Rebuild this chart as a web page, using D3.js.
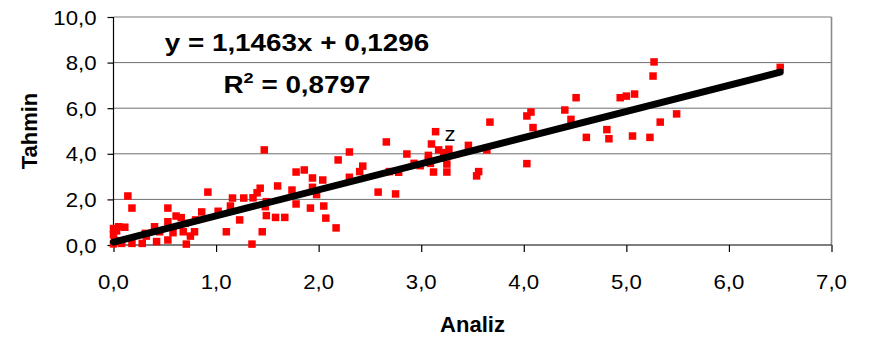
<!DOCTYPE html>
<html>
<head>
<meta charset="utf-8">
<script src="https://cdn.jsdelivr.net/npm/d3@7"></script>
<style>
  html, body { margin: 0; padding: 0; background: #fff; }
  svg { display: block; }
  text { font-family: "Liberation Sans", Arial, sans-serif; fill: #000; }
</style>
</head>
<body>
<svg id="chart" width="874" height="339"></svg>
<script>
// ---- Data ----
const analiz = [0.00,0.00,0.01,0.00,0.03,0.05,0.08,0.11,0.14,0.18,0.18,0.28,0.31,0.32,0.40,0.42,0.45,0.53,0.53,0.53,
  0.58,0.61,0.66,0.68,0.70,0.71,0.75,0.79,0.80,0.86,0.92,1.02,1.10,1.14,1.16,1.23,1.27,1.35,1.36,1.40,
  1.43,1.45,1.47,1.48,1.49,1.49,1.58,1.60,1.67,1.74,1.78,1.78,1.86,1.92,1.94,1.94,1.98,2.04,2.05,2.07,
  2.17,2.19,2.30,2.30,2.40,2.43,2.58,2.66,2.69,2.75,2.78,2.86,2.93,2.99,3.07,3.07,3.09,3.10,3.12,3.14,
  3.17,3.22,3.25,3.25,3.27,3.46,3.54,3.56,3.64,3.67,4.03,4.03,4.07,4.09,4.40,4.46,4.51,4.61,4.81,4.83,
  4.94,5.00,5.06,5.08,5.23,5.26,5.27,5.33,5.49,6.50];
const tahmin = [0.72,0.45,0.20,0.05,0.62,0.80,0.07,0.78,2.15,1.62,0.07,0.07,0.51,0.39,0.80,0.15,0.58,1.62,1.02,0.22,
  0.54,1.27,1.20,0.58,0.95,0.04,0.39,0.58,1.10,1.45,2.32,1.48,0.58,1.71,2.06,1.10,2.06,0.04,2.07,2.29,
  2.49,0.58,4.17,1.68,1.90,1.29,1.21,2.59,1.21,2.41,3.20,1.80,3.29,1.62,2.94,2.53,2.21,2.85,1.71,1.18,
  0.75,3.73,4.08,2.97,3.22,3.46,2.32,4.52,3.22,2.24,3.19,3.99,3.58,3.48,3.93,3.76,3.58,4.43,3.20,4.97,
  4.17,4.05,3.55,3.20,4.20,4.37,3.03,3.22,4.17,5.39,5.66,3.57,5.83,5.15,5.92,5.51,6.46,4.72,5.06,4.66,
  6.46,6.53,4.78,6.62,4.72,7.41,8.03,5.39,5.75,7.79];

const slope = 1.1463;
const intercept = 0.1296;
const rSquaredText = "0,8797";
const equationText = "y = 1,1463x + 0,1296";

const xTicks = [0, 1, 2, 3, 4, 5, 6, 7];
const yTicks = [0, 2, 4, 6, 8, 10];
const xDomain = [0, 7];
const yDomain = [0, 10];
const xTitle = "Analiz";
const yTitle = "Tahmin";
const annotation = { label: "z", x: 3.28, y: 4.57 };

// ---- Layout ----
const svg = d3.select("#chart");
const plot = { left: 113.5, right: 831.5, top: 17, bottom: 245 };

const x = d3.scaleLinear().domain(xDomain).range([plot.left, plot.right]);
const y = d3.scaleLinear().domain(yDomain).range([plot.bottom, plot.top]);

const loc = d3.formatLocale({ decimal: ",", thousands: ".", grouping: [3], currency: ["", ""] });
const fmt = loc.format(".1f");

const labelStretch = 1.11;

// gridlines
svg.append("g")
  .selectAll("line")
  .data(yTicks.filter(t => t > 0 && t < 10))
  .join("line")
  .attr("x1", plot.left).attr("x2", plot.right)
  .attr("y1", d => y(d)).attr("y2", d => y(d))
  .attr("stroke", "#6e6e6e").attr("stroke-width", 1);

// top & right border (gray)
svg.append("line")
  .attr("x1", plot.left).attr("x2", plot.right)
  .attr("y1", y(10)).attr("y2", y(10))
  .attr("stroke", "#7a7a7a").attr("stroke-width", 1.2);
svg.append("line")
  .attr("x1", plot.right).attr("x2", plot.right)
  .attr("y1", plot.top).attr("y2", plot.bottom)
  .attr("stroke", "#8a8a8a").attr("stroke-width", 1.6);

// axes
const xAxis = d3.axisBottom(x).tickValues(xTicks).tickSize(7).tickFormat("");
const yAxis = d3.axisLeft(y).tickValues(yTicks).tickSize(6).tickFormat("");

const gx = svg.append("g").attr("transform", `translate(0,${plot.bottom})`).call(xAxis);
const gy = svg.append("g").attr("transform", `translate(${plot.left},0)`).call(yAxis);
[gx, gy].forEach(g => {
  g.select(".domain").attr("stroke", "#000").attr("stroke-width", 1.2);
  g.selectAll(".tick line").attr("stroke", "#000").attr("stroke-width", 1.2);
});
gx.select(".domain").attr("d", `M${plot.left},0H${plot.right}`);
gy.select(".domain").attr("d", `M0,${plot.top}V${plot.bottom}`);

// tick labels (stretched horizontally like the original)
svg.append("g").selectAll("text")
  .data(xTicks).join("text")
  .attr("transform", d => `translate(${x(d)},${plot.bottom + 43.5}) scale(${labelStretch},1)`)
  .attr("text-anchor", "middle")
  .attr("font-size", 20)
  .text(d => fmt(d));

svg.append("g").selectAll("text")
  .data(yTicks).join("text")
  .attr("transform", d => `translate(${plot.left - 17},${y(d) + 7.5}) scale(${labelStretch},1)`)
  .attr("text-anchor", "end")
  .attr("font-size", 20)
  .text(d => fmt(d));

// axis titles
svg.append("text")
  .attr("x", (plot.left + plot.right) / 2)
  .attr("y", 331.5)
  .attr("text-anchor", "middle")
  .attr("font-size", 22).attr("font-weight", "bold")
  .text(xTitle);

svg.append("text")
  .attr("transform", `translate(36.5,${(plot.top + plot.bottom) / 2}) rotate(-90)`)
  .attr("text-anchor", "middle")
  .attr("font-size", 22).attr("font-weight", "bold")
  .text(yTitle);

// points
const pts = analiz.map((a, i) => ({ a, t: tahmin[i] }));
const sq = 7.5;
svg.append("g").selectAll("rect")
  .data(pts).join("rect")
  .attr("x", d => x(d.a) - sq / 2)
  .attr("y", d => y(d.t) - sq / 2)
  .attr("width", sq).attr("height", sq)
  .attr("fill", "#ff0000");

// annotation
svg.append("text")
  .attr("transform", `translate(${x(annotation.x)},${y(annotation.y)}) scale(${labelStretch},1)`)
  .attr("text-anchor", "middle")
  .attr("font-size", 20)
  .text(annotation.label);

// regression line
const xMin = d3.min(analiz), xMax = d3.max(analiz);
svg.append("line")
  .attr("x1", x(xMin)).attr("y1", y(slope * xMin + intercept))
  .attr("x2", x(xMax)).attr("y2", y(slope * xMax + intercept))
  .attr("stroke", "#000").attr("stroke-width", 7)
  .attr("stroke-linecap", "round");

// equation text
const eqStretch = 1.21;
svg.append("text")
  .attr("transform", `translate(297,50.5) scale(${eqStretch},1)`)
  .attr("text-anchor", "middle")
  .attr("font-size", 23).attr("font-weight", "bold")
  .text(equationText);

const r2 = svg.append("text")
  .attr("transform", `translate(297,92.5) scale(${eqStretch},1)`)
  .attr("text-anchor", "middle")
  .attr("font-size", 23).attr("font-weight", "bold");
r2.append("tspan").text("R");
r2.append("tspan").attr("font-size", 15).attr("dy", -10).text("2");
r2.append("tspan").attr("dy", 10).text(" = " + rSquaredText);
</script>
</body>
</html>
